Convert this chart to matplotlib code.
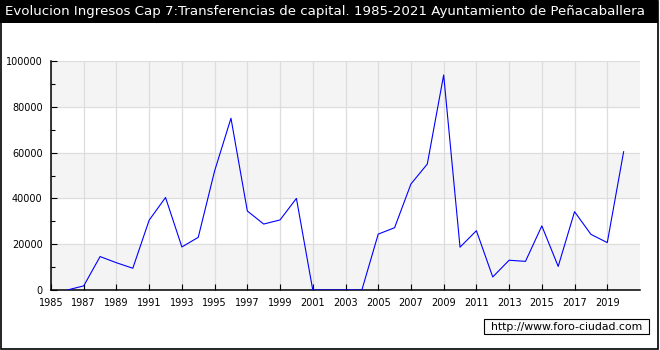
import matplotlib
matplotlib.use("Agg")
import matplotlib.pyplot as plt
from matplotlib.patches import Rectangle
from matplotlib.ticker import MultipleLocator

# Data (euros per year)
years = list(range(1986, 2021))
values = [0, 1800, 14600, 11900, 9500, 30500, 40400, 18800, 23000, 52000,
          75000, 34500, 28800, 30600, 40000, 0, 0, 0, 0, 24400,
          27200, 46300, 55000, 93900, 18700, 25900, 5700, 13000, 12500, 28000,
          10300, 34200, 24300, 20700, 60400]

title = "Evolucion Ingresos Cap 7:Transferencias de capital. 1985-2021 Ayuntamiento de Peñacaballera"
xticks = list(range(1985, 2021, 2))
yticks = list(range(0, 100001, 20000))

W, H = 660, 350
fig = plt.figure(figsize=(W / 100, H / 100), dpi=100)

def px(x, y, w, h):
    # pixel box (top-left origin) -> figure fraction
    return (x / W, 1 - (y + h) / H, w / W, h / H)

# title bar and outer frame
x0, y0, w0, h0 = px(0, 0, 658, 23)
fig.add_artist(Rectangle((x0, y0), w0, h0, transform=fig.transFigure,
                         facecolor="black", edgecolor="none"))
fig.text(5 / W, 1 - 11.5 / H, title, color="white", fontsize=9.6,
         va="center", ha="left")
x0, y0, w0, h0 = px(0.5, 0.5, 657, 348)
fig.add_artist(Rectangle((x0, y0), w0, h0, transform=fig.transFigure,
                         facecolor="none", edgecolor="black", lw=1.2))

ax = fig.add_axes(px(51, 61, 589, 229))
for lo in range(0, 100000, 40000):
    ax.axhspan(lo, lo + 20000, color="#f4f4f4", zorder=0, lw=0)
ax.set_facecolor("white")
ax.plot(years, values, color="#0000ff", lw=0.8, zorder=3)

ax.set_xlim(1985, 2021)
ax.set_ylim(0, 100000)
ax.set_xticks(xticks)
ax.set_xticklabels([str(t) for t in xticks])
ax.set_yticks(yticks)
ax.set_yticklabels([str(t) for t in yticks])
ax.yaxis.set_minor_locator(MultipleLocator(10000))
ax.grid(True, which="major", color="#dddddd", lw=0.9, zorder=1)
ax.set_axisbelow(True)
for side in ("top", "right"):
    ax.spines[side].set_visible(False)
for side in ("left", "bottom"):
    ax.spines[side].set_linewidth(1.1)
ax.tick_params(axis="both", which="major", direction="in", length=4,
               width=0.8, labelsize=7, pad=6)
ax.tick_params(axis="y", which="minor", direction="in", length=3, width=0.8)

# watermark box
x0, y0, w0, h0 = px(484, 319, 165, 15)
fig.add_artist(Rectangle((x0, y0), w0, h0, transform=fig.transFigure,
                         facecolor="#fafafa", edgecolor="black", lw=0.8))
fig.text((484 + 82.5) / W, 1 - 326.5 / H, "http://www.foro-ciudad.com",
         fontsize=7.8, ha="center", va="center")

fig.savefig("out.png", dpi=100)
